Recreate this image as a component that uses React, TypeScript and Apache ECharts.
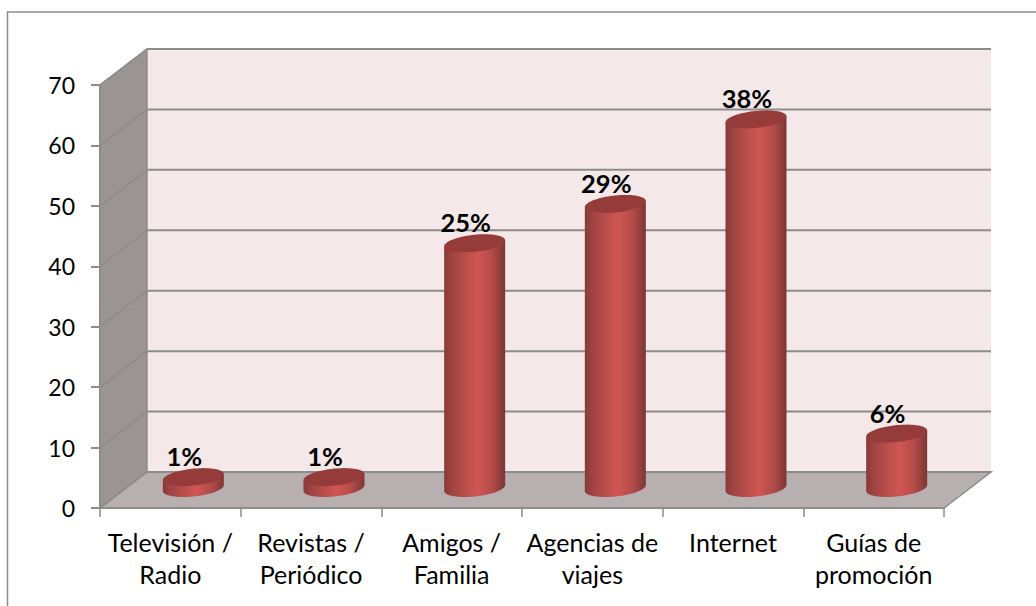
import React, { useEffect, useRef } from "react";
import * as echarts from "echarts";

const categories = [
  "Televisión /\nRadio",
  "Revistas /\nPeriódico",
  "Amigos /\nFamilia",
  "Agencias de\nviajes",
  "Internet",
  "Guías de\npromoción",
];
const values = [1.8, 1.8, 40.5, 47, 61, 9];
const percentLabels = ["1%", "1%", "25%", "29%", "38%", "6%"];
const yTicks = [0, 10, 20, 30, 40, 50, 60, 70];

const DEPTH_X = 47;
const DEPTH_Y = -36;
const BAR_DX = 23;
const BAR_DY = -20;
const RX = 30.5;
const RY = 8.5;
const TILT = 3;
const GRID_COLOR = "#8c8c8c";
const FONT = "Lato, Carlito, Calibri, sans-serif";

function ellipsePoint(cx: number, cy: number, t: number) {
  return [cx + RX * Math.cos(t), cy + RY * Math.sin(t) - TILT * Math.cos(t)];
}
function ellipsePoints(cx: number, cy: number, from: number, to: number, n = 48) {
  const out: number[][] = [];
  for (let i = 0; i <= n; i++) out.push(ellipsePoint(cx, cy, from + ((to - from) * i) / n));
  return out;
}

const bodyGradient = new echarts.graphic.LinearGradient(0, 0, 1, 0, [
  { offset: 0, color: "#873a38" },
  { offset: 0.12, color: "#9e4442" },
  { offset: 0.35, color: "#bb4e4b" },
  { offset: 0.55, color: "#cf5653" },
  { offset: 0.78, color: "#b54b49" },
  { offset: 0.93, color: "#8f3e3c" },
  { offset: 1, color: "#7c3634" },
]);

function renderWalls(params: any, api: any) {
  const tick = api.value(1);
  const [, y] = api.coord([0, tick]);
  const cs = params.coordSys;
  const left = cs.x;
  const right = cs.x + cs.width;
  const top = cs.y;
  const bottom = cs.y + cs.height;
  const children: any[] = [];
  if (params.dataIndex === 0) {
    children.push(
      {
        type: "polygon",
        shape: { points: [[left + DEPTH_X, top + DEPTH_Y], [right + DEPTH_X, top + DEPTH_Y], [right + DEPTH_X, bottom + DEPTH_Y], [left + DEPTH_X, bottom + DEPTH_Y]] },
        style: { fill: "#f4e8e8" },
      },
      {
        type: "polygon",
        shape: { points: [[left, top], [left + DEPTH_X, top + DEPTH_Y], [left + DEPTH_X, bottom + DEPTH_Y], [left, bottom]] },
        style: { fill: "#9a9493", stroke: GRID_COLOR, lineWidth: 1.5 },
      },
      {
        type: "polygon",
        shape: { points: [[left, bottom], [left + DEPTH_X, bottom + DEPTH_Y], [right + DEPTH_X, bottom + DEPTH_Y], [right, bottom]] },
        style: { fill: "#b8b0b0", stroke: GRID_COLOR, lineWidth: 1.5 },
      }
    );
  }
  children.push(
    {
      type: "line",
      z2: 5,
      shape: { x1: left + DEPTH_X, y1: y + DEPTH_Y, x2: right + DEPTH_X, y2: y + DEPTH_Y },
      style: { stroke: GRID_COLOR, lineWidth: 2 },
    },
    {
      type: "line",
      z2: 5,
      shape: { x1: left, y1: y, x2: left + DEPTH_X, y2: y + DEPTH_Y },
      style: { stroke: GRID_COLOR, lineWidth: 1.5 },
    }
  );
  return { type: "group", children };
}

function renderBar(params: any, api: any) {
  const idx = api.value(0);
  const [bx, by] = api.coord([idx, 0]);
  const [, ty] = api.coord([idx, api.value(1)]);
  const cx = bx + BAR_DX;
  const cyBottom = by + BAR_DY;
  const cyTop = ty + BAR_DY;
  const body = [
    ...ellipsePoints(cx, cyBottom, 0, Math.PI),
    ellipsePoint(cx, cyTop, Math.PI),
    ellipsePoint(cx, cyTop, 0),
  ];
  return {
    type: "group",
    children: [
      { type: "polygon", shape: { points: body }, style: { fill: bodyGradient } },
      {
        type: "polygon",
        shape: { points: ellipsePoints(cx, cyTop, 0, Math.PI * 2, 72) },
        style: { fill: "#953c3b" },
      },
      {
        type: "text",
        z2: 10,
        style: {
          text: percentLabels[params.dataIndex],
          x: cx - 9,
          y: cyTop - 21,
          fill: "#000",
          align: "center",
          verticalAlign: "middle",
          font: `bold 25.5px ${FONT}`,
        },
      },
    ],
  };
}

export default function App() {
  const ref = useRef<HTMLDivElement>(null);
  useEffect(() => {
    const chart = echarts.init(ref.current!, undefined, { renderer: "svg" });
    chart.setOption({
      animation: false,
      backgroundColor: "#fff",
      graphic: [
        {
          type: "rect",
          z: -1,
          shape: { x: 7.5, y: 12, width: 1040, height: 610 },
          style: { fill: "none", stroke: GRID_COLOR, lineWidth: 1.5 },
        },
      ],
      grid: { left: 100, top: 85, width: 844, height: 423, containLabel: false },
      xAxis: {
        type: "category",
        data: categories,
        z: 6,
        axisLine: { lineStyle: { color: GRID_COLOR, width: 2 } },
        axisTick: { show: true, alignWithLabel: false, length: 9, lineStyle: { color: GRID_COLOR, width: 1.5 } },
        axisLabel: { interval: 0, margin: 18, fontSize: 25, lineHeight: 32, color: "#000", fontFamily: FONT },
      },
      yAxis: {
        type: "value",
        min: 0,
        max: 70,
        interval: 10,
        z: 6,
        splitLine: { show: false },
        axisLine: { show: true, lineStyle: { color: GRID_COLOR, width: 2 } },
        axisTick: { show: true, length: 9, lineStyle: { color: GRID_COLOR, width: 2 } },
        axisLabel: { margin: 25, fontSize: 23, color: "#000", fontFamily: FONT },
      },
      series: [
        {
          type: "custom",
          name: "walls",
          z: 1,
          clip: false,
          silent: true,
          renderItem: renderWalls,
          data: yTicks.map((t) => [0, t]),
          encode: { x: 0, y: 1 },
        },
        {
          type: "custom",
          name: "bars",
          z: 3,
          clip: false,
          renderItem: renderBar,
          data: values.map((v, i) => [i, v]),
          encode: { x: 0, y: 1 },
        },
      ],
    });
    return () => chart.dispose();
  }, []);
  return <div ref={ref} style={{ position: "absolute", left: 0, top: 0, width: 1036, height: 606 }} />;
}
